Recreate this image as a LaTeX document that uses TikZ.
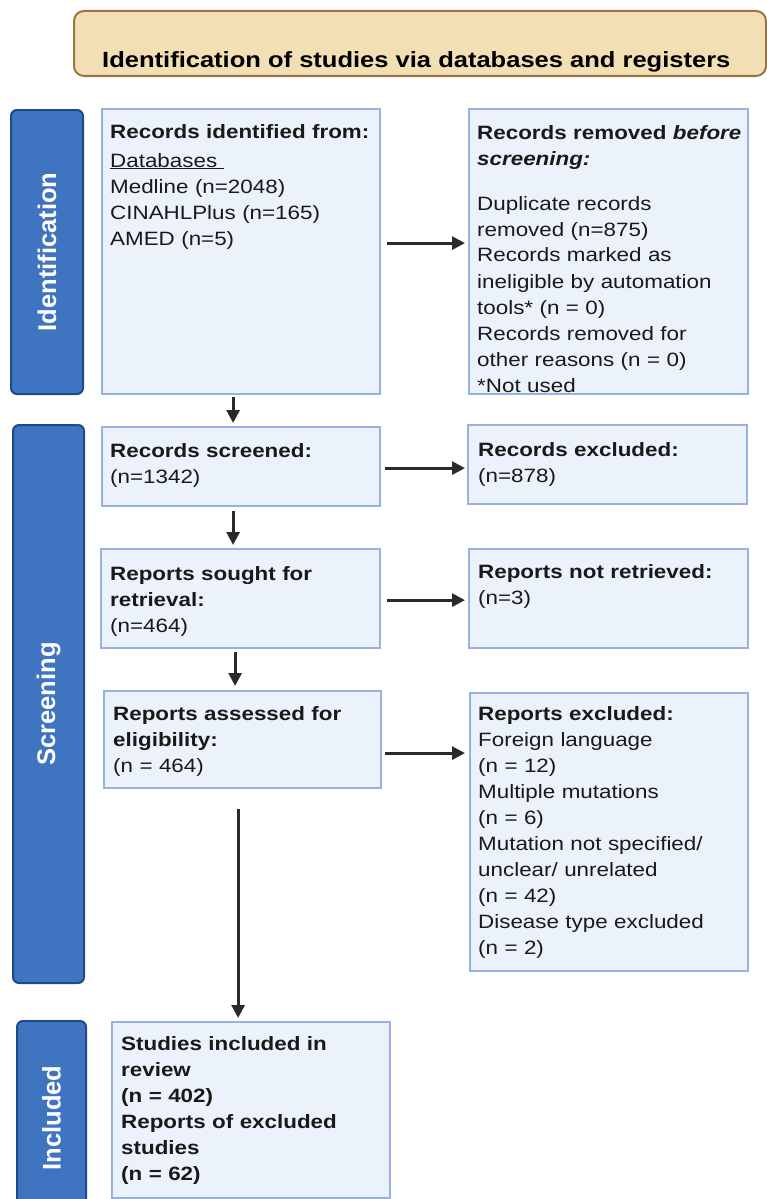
\documentclass[tikz,border=0pt]{standalone}
\usepackage{fontspec}
\setmainfont{Liberation Sans}[FakeStretch=1.16]
\newfontfamily\sidefont{Liberation Sans}
\usetikzlibrary{arrows.meta}
\definecolor{boxfill}{HTML}{ECF2FB}
\definecolor{boxline}{HTML}{98B1DE}
\definecolor{barfill}{HTML}{3F74C1}
\definecolor{barline}{HTML}{1E4A8C}
\definecolor{headfill}{HTML}{F2DFB4}
\definecolor{headline}{HTML}{9C7343}
\definecolor{arrowgray}{HTML}{2A2A2A}
\hyphenpenalty=10000
\begin{document}
\begin{tikzpicture}[x=1pt,y=-1pt,
  box/.style={draw=boxline,fill=boxfill,line width=2.2pt,anchor=north west,inner sep=0pt},
  bar/.style={draw=barline,fill=barfill,line width=2pt,rounded corners=6pt,anchor=north west,inner sep=0pt},
  bartext/.style={text=white,rotate=90,inner sep=0pt,font=\sidefont\bfseries\fontsize{25.5}{30}\selectfont},
  txt/.style={anchor=base west,inner sep=0pt,text width=270pt,align=left,text=black!90,font=\fontsize{19.3}{26}\selectfont},
  arr/.style={draw=arrowgray,line width=2.8pt,-{Triangle[length=13pt,width=13pt]}}]
 \useasboundingbox (0,0) rectangle (766,1199);
 % header
 \node[draw=headline,fill=headfill,line width=2pt,rounded corners=10pt,anchor=north west,
   inner sep=0pt,minimum width=692pt,minimum height=65pt] (head) at (73,10) {};
 \node[anchor=base west,inner sep=0pt,font=\bfseries\fontsize{22}{26}\selectfont] (head-t) at (102,67)
   {Identification of studies via databases and registers};
 % phase bars
 \node[bar,minimum width=72pt,minimum height=284pt] (bar-id) at (10,109) {};
 \node[bartext] (bar-id-t) at (bar-id.center) {Identification};
 \node[bar,minimum width=71pt,minimum height=558pt] (bar-scr) at (12,424) {};
 \node[bartext] (bar-scr-t) at (bar-scr.center) {Screening};
 \node[bar,minimum width=69pt,minimum height=190pt] (bar-inc) at (16,1020) {};
 \node[bartext] (bar-inc-t) at ([yshift=-2pt]bar-inc.center) {Included};
 % left column
 \node[box,minimum width=278pt,minimum height=285pt] (rec) at (101,108) {};
 \node[txt] (rec-t) at ([shift={(9,30)}]rec.north west)
   {\textbf{Records identified from:}\\[3pt] \underline{Databases\ }\\ Medline (n=2048)\\ CINAHLPlus (n=165)\\ AMED (n=5)};
 \node[box,minimum width=278pt,minimum height=79pt] (scr) at (101,426) {};
 \node[txt] (scr-t) at ([shift={(9,31)}]scr.north west)
   {\textbf{Records screened:}\\ (n=1342)};
 \node[box,minimum width=279pt,minimum height=99pt] (sought) at (100,548) {};
 \node[txt] (sought-t) at ([shift={(10,32)}]sought.north west)
   {\textbf{Reports sought for}\\ \textbf{retrieval:}\\ (n=464)};
 \node[box,minimum width=277pt,minimum height=97pt] (assessed) at (103,690) {};
 \node[txt] (assessed-t) at ([shift={(10,30)}]assessed.north west)
   {\textbf{Reports assessed for}\\ \textbf{eligibility:}\\ (n = 464)};
 \node[box,minimum width=278pt,minimum height=176pt] (incl) at (111,1021) {};
 \node[txt] (incl-t) at ([shift={(10,29)}]incl.north west)
   {\bfseries Studies included in\\ review\\ (n = 402)\\ Reports of excluded\\ studies\\ (n = 62)};
 % right column
 \node[box,minimum width=279pt,minimum height=285pt] (rem) at (468,108) {};
 \node[txt] (rem-t) at ([shift={(9,31)}]rem.north west)
   {\textbf{Records removed \textit{before}}\\ \textbf{\textit{screening:}}\\[19pt]
    Duplicate records\\ removed (n=875)\\ Records marked as\\ ineligible by automation\\
    tools* (n = 0)\\ Records removed for\\ other reasons (n = 0)\\ \relax*Not used};
 \node[box,minimum width=279pt,minimum height=79pt] (exc) at (467,424) {};
 \node[txt] (exc-t) at ([shift={(11,32)}]exc.north west)
   {\textbf{Records excluded:}\\ (n=878)};
 \node[box,minimum width=279pt,minimum height=99pt] (notret) at (468,548) {};
 \node[txt] (notret-t) at ([shift={(10,30)}]notret.north west)
   {\textbf{Reports not retrieved:}\\ (n=3)};
 \node[box,minimum width=278pt,minimum height=278pt] (repexc) at (469,692) {};
 \node[txt] (repexc-t) at ([shift={(9,28)}]repexc.north west)
   {\textbf{Reports excluded:}\\ Foreign language\\ (n = 12)\\ Multiple mutations\\ (n = 6)\\
    Mutation not specified/\\ unclear/ unrelated\\ (n = 42)\\ Disease type excluded\\ (n = 2)};
 % arrows down
 \draw[arr,shorten <=2pt,shorten >=3pt] ([xshift=-8pt]rec.south) -- ([xshift=-8pt]rec.south |- scr.north);
 \draw[arr,shorten <=4pt,shorten >=3pt] ([xshift=-8pt]scr.south) -- ([xshift=-8pt]scr.south |- sought.north);
 \coordinate (d3) at ([xshift=-5.5pt]sought.south);
 \draw[arr,shorten <=3pt,shorten >=4pt] (d3) -- (d3 |- assessed.north);
 \coordinate (d4) at ([xshift=-4.5pt]assessed.south);
 \draw[arr,shorten <=20pt,shorten >=3pt] (d4) -- (d4 |- incl.north);
 % arrows across
 \draw[arr,shorten <=6pt,shorten >=3pt] ([yshift=8.5pt]rec.east) -- ([yshift=8.5pt]rem.west);
 \coordinate (r2) at ([yshift=-1.5pt]scr.east);
 \draw[arr,shorten <=4pt,shorten >=2pt] (r2) -- (r2 -| exc.west);
 \coordinate (r3) at ([yshift=-1.5pt]sought.east);
 \draw[arr,shorten <=6pt,shorten >=3pt] (r3) -- (r3 -| notret.west);
 \coordinate (r4) at ([yshift=-13.5pt]assessed.east);
 \draw[arr,shorten <=3pt,shorten >=4pt] (r4) -- (r4 -| repexc.west);
\end{tikzpicture}
\end{document}
